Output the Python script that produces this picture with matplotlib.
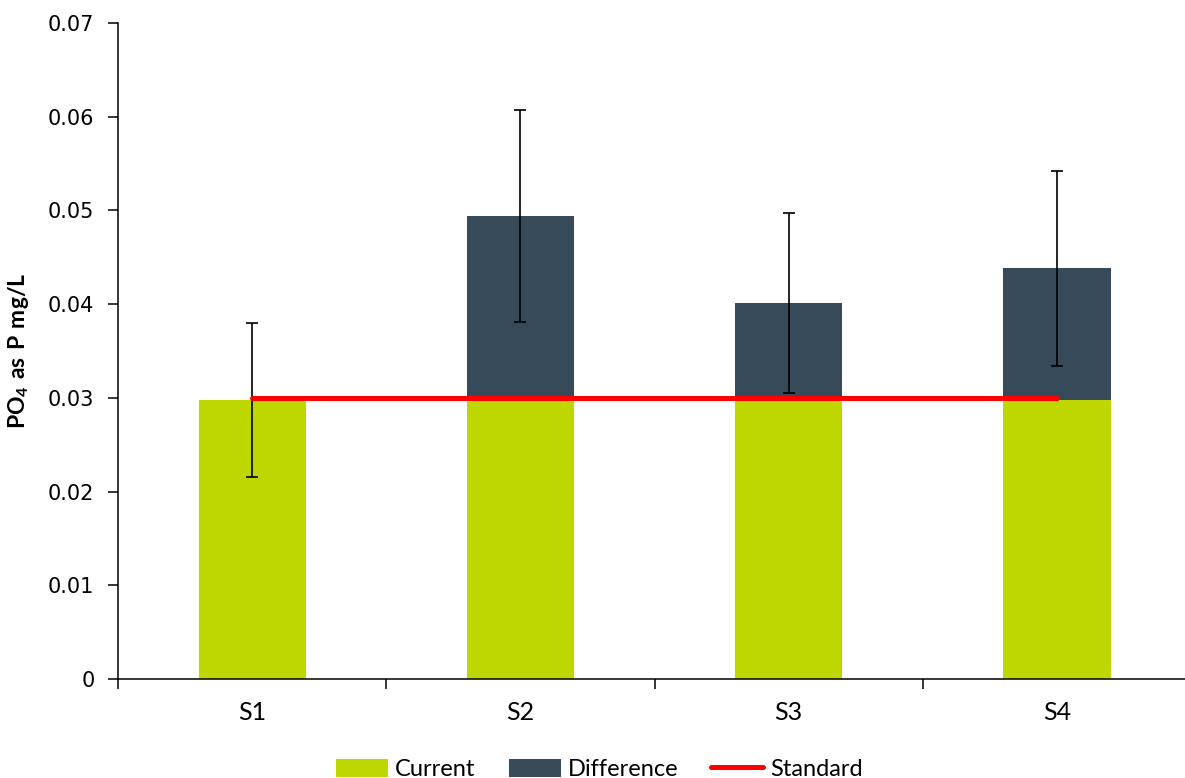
import matplotlib.pyplot as plt
import numpy as np

# values
sites = ['S1', 'S2', 'S3', 'S4']
current = [0.0298, 0.0298, 0.0298, 0.0298]
difference = [0.0, 0.0196, 0.0103, 0.0140]
err = [0.0082, 0.0113, 0.0096, 0.0104]
standard = [0.030, 0.030, 0.030, 0.030]
yticks = [0, 0.01, 0.02, 0.03, 0.04, 0.05, 0.06, 0.07]
ytick_labels = ['0', '0.01', '0.02', '0.03', '0.04', '0.05', '0.06', '0.07']

if __name__ == '__main__':
    plt.rcParams['mathtext.fontset'] = 'custom'
    plt.rcParams['mathtext.rm'] = 'Lato'
    plt.rcParams['mathtext.bf'] = 'Lato:bold'

    fig = plt.figure(figsize=(11.85, 7.78), dpi=100)
    ax = fig.add_axes([0.0996, 0.1273, 0.9055, 0.8432])

    x = np.arange(len(sites))
    total = np.array(current) + np.array(difference)

    b1 = ax.bar(x, current, width=0.4, color='#BFD700', label='Current', zorder=2)
    b2 = ax.bar(x, difference, width=0.4, bottom=current, color='#374A5A',
                label='Difference', zorder=2)
    ax.errorbar(x, total, yerr=err, fmt='none', ecolor='black',
                elinewidth=1.2, capsize=4.3, capthick=1.2, zorder=3)
    l1, = ax.plot(x, standard, color='#FF0000', lw=3.6, solid_capstyle='round',
                  label='Standard', zorder=4)

    ax.set_xlim(-0.5, 3.5)
    ax.set_ylim(0, 0.07)
    ax.set_xticks(np.arange(-0.5, 4, 1.0))
    ax.set_xticklabels([])
    ax.set_xticks(x, minor=True)
    ax.set_xticklabels(sites, minor=True, family='Lato', fontsize=18)
    ax.tick_params(axis='x', which='minor', length=0, pad=16)
    ax.tick_params(axis='x', which='major', direction='out', length=7, width=1.1)
    ax.set_yticks(yticks)
    ax.set_yticklabels(ytick_labels, family='DejaVu Sans', fontsize=15)
    ax.tick_params(axis='y', direction='out', length=7, width=1.1, pad=10)

    for s in ['top', 'right']:
        ax.spines[s].set_visible(False)
    for s in ['left', 'bottom']:
        ax.spines[s].set_linewidth(1.1)

    ax.set_ylabel(r'$\mathbf{PO_4\ as\ P\ mg/L}$', fontsize=16.5)
    ax.yaxis.set_label_coords(-0.081, 0.5)

    fig.legend(handles=[b1, b2, l1], loc='center', bbox_to_anchor=(0.506, 0.011),
               ncol=3, frameon=False, prop={'family': 'Lato', 'size': 17},
               handlelength=2.2, handleheight=0.8, handletextpad=0.3,
               columnspacing=1.4, borderpad=0)

    plt.savefig('out.png', dpi=100)
